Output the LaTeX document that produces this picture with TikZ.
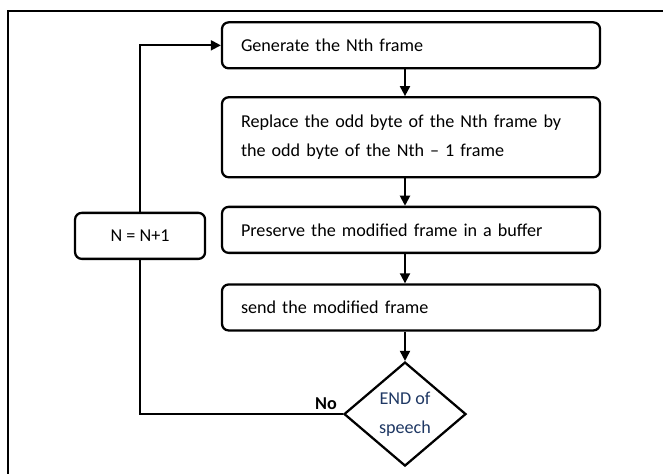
\documentclass[tikz,border=0pt]{standalone}
\usepackage{fontspec}
\setmainfont{Carlito}
\usetikzlibrary{positioning}
\usetikzlibrary{shapes.geometric}
\usetikzlibrary{arrows.meta}
\definecolor{speechblue}{RGB}{31,56,100}
\tikzset{node distance=21pt, % gap between the steps
every node/.style={font=\fontsize{13.6}{21.5}\selectfont},
stepbox/.style={ % Sets the properties for each step
draw, line width=1.7pt, rectangle, rounded corners=5pt,
fill=white, align=left,
text width=255pt, inner xsep=14.25pt,
minimum height=34.5pt},
countbox/.style={ % The N = N+1 box
draw, line width=1.7pt, rectangle, rounded corners=5pt,
fill=white, minimum width=97.5pt, minimum height=34.5pt},
decision/.style={ % The end test
draw, line width=1.7pt, diamond, fill=white, inner sep=0pt,
minimum width=91.5pt, minimum height=78pt,
align=center, text=speechblue},
link/.style={line width=1.4pt},
flow/.style={ % Sets the properties for each connector
draw, link, -{Triangle[length=7.5pt,width=7.5pt]}}}

\begin{document}
\begin{tikzpicture}
\useasboundingbox (0,0) rectangle (497.25pt,-355.5pt);
\draw[line width=1.6pt] (6pt,-355.5pt) -- (6pt,-8pt) -- (497.25pt,-8pt);
\node[stepbox] (gen) at (308.25pt,-34pt) {Generate the Nth frame};
\node[stepbox, minimum height=60pt, below=20pt of gen] (repl)
  {Replace the odd byte of the Nth frame by\\the odd byte of the Nth -- 1 frame};
\node[stepbox, below=20.5pt of repl] (pres) {Preserve the modified frame in a buffer};
\node[stepbox, below=22pt of pres] (send) {send the modified frame};
\node[decision, below=22pt of send, xshift=-4.5pt] (dec) {END of\\speech};
\node[countbox, left=11pt of pres, yshift=-4.5pt] (inc) {N = N+1};
\draw[flow] (gen.south -| dec) -- (repl.north -| dec);
\draw[flow] (repl.south -| dec) -- (pres.north -| dec);
\draw[flow] (pres.south -| dec) -- (send.north -| dec);
\draw[flow] (send.south -| dec) -- (dec.north);
\draw[link] (dec.west) -| (inc.south);
\draw[flow] (inc.north) |- (gen.west);
\node[font=\bfseries\fontsize{13.6}{15}\selectfont, above left=0pt and 1pt of dec.west] (no) {No};
\end{tikzpicture}
\end{document}
